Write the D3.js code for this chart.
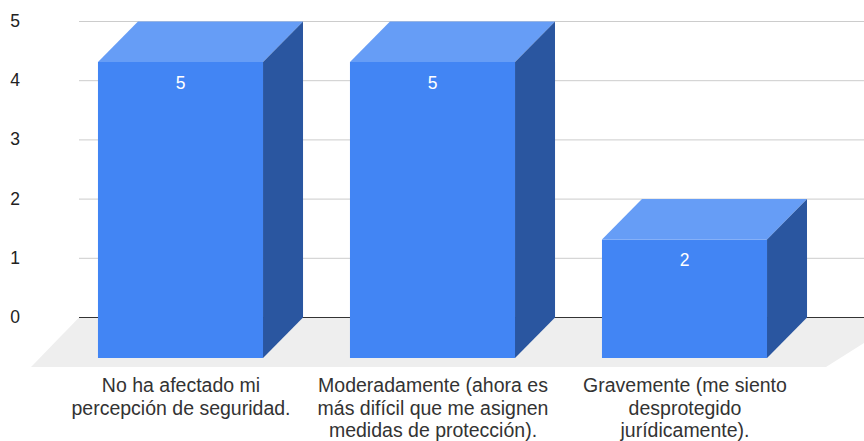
<!DOCTYPE html>
<html><head><meta charset="utf-8">
<script src="https://cdn.jsdelivr.net/npm/d3@7"></script>
<style>html,body{margin:0;padding:0;background:#fff}svg{display:block}text{font-family:"Liberation Sans",Arial,sans-serif}</style>
</head><body><svg id="c" width="864" height="441"></svg>
<script>
const categories = [
  ["No ha afectado mi","percepción de seguridad."],
  ["Moderadamente (ahora es","más difícil que me asignen","medidas de protección)."],
  ["Gravemente (me siento","desprotegido","jurídicamente)."]
];
const values = [5,5,2];
const yTicks = [0,1,2,3,4,5];

const W=864,H=441, depthX=40, depthY=40.5;
const svg=d3.select("#c");
const y=d3.scaleLinear().domain([0,5]).range([358,62]);   // front plane
const backY=v=>y(v)-depthY;
const x=d3.scaleBand().domain(d3.range(values.length)).range([54.5,810.5]).paddingInner(0.345).paddingOuter(0.1725);

// floor
svg.append("polygon").attr("fill","#eeeeee")
  .attr("points",[[79,backY(0)],[W+40,backY(0)],[826,367],[31,367]].join(" "));

// grid lines
svg.append("g").selectAll("line").data(yTicks).join("line")
  .attr("x1",79).attr("x2",W)
  .attr("y1",d=>backY(d)).attr("y2",d=>backY(d))
  .attr("stroke",d=>d===0?"#333333":"#cccccc").attr("stroke-width",1);

// y labels
svg.append("g").selectAll("text").data(yTicks).join("text")
  .attr("x",15).attr("y",d=>backY(d)+5.5).attr("text-anchor","middle")
  .attr("font-size",17.5).attr("fill","#222222").text(d=>d);

// bars
const bars=svg.append("g").selectAll("g").data(values).join("g");
bars.append("polygon").attr("fill","#669df6")
  .attr("points",(d,i)=>{const a=x(i),b=a+x.bandwidth(),t=y(d);return [[a,t],[a+depthX,t-depthY],[b+depthX,t-depthY],[b,t]].join(" ")});
bars.append("polygon").attr("fill","#2a56a0")
  .attr("points",(d,i)=>{const b=x(i)+x.bandwidth(),t=y(d),z=y(0);return [[b,t],[b+depthX,t-depthY],[b+depthX,z-depthY],[b,z]].join(" ")});
bars.append("rect").attr("fill","#4285f4")
  .attr("x",(d,i)=>x(i)).attr("y",d=>y(d)).attr("width",x.bandwidth()).attr("height",d=>y(0)-y(d));
bars.append("text").attr("x",(d,i)=>x(i)+x.bandwidth()/2).attr("y",d=>y(d)+26.5)
  .attr("text-anchor","middle").attr("font-size",17.5).attr("fill","#ffffff").text(d=>d);

// category labels
const lab=svg.append("g").selectAll("text").data(categories).join("text")
  .attr("text-anchor","middle").attr("font-size",19.5).attr("fill","#333333");
lab.each(function(lines,i){
  d3.select(this).selectAll("tspan").data(lines).join("tspan")
    .attr("x",x(i)+x.bandwidth()/2+0.5).attr("y",(l,j)=>392+j*22.5).text(l=>l);
});
</script></body></html>
